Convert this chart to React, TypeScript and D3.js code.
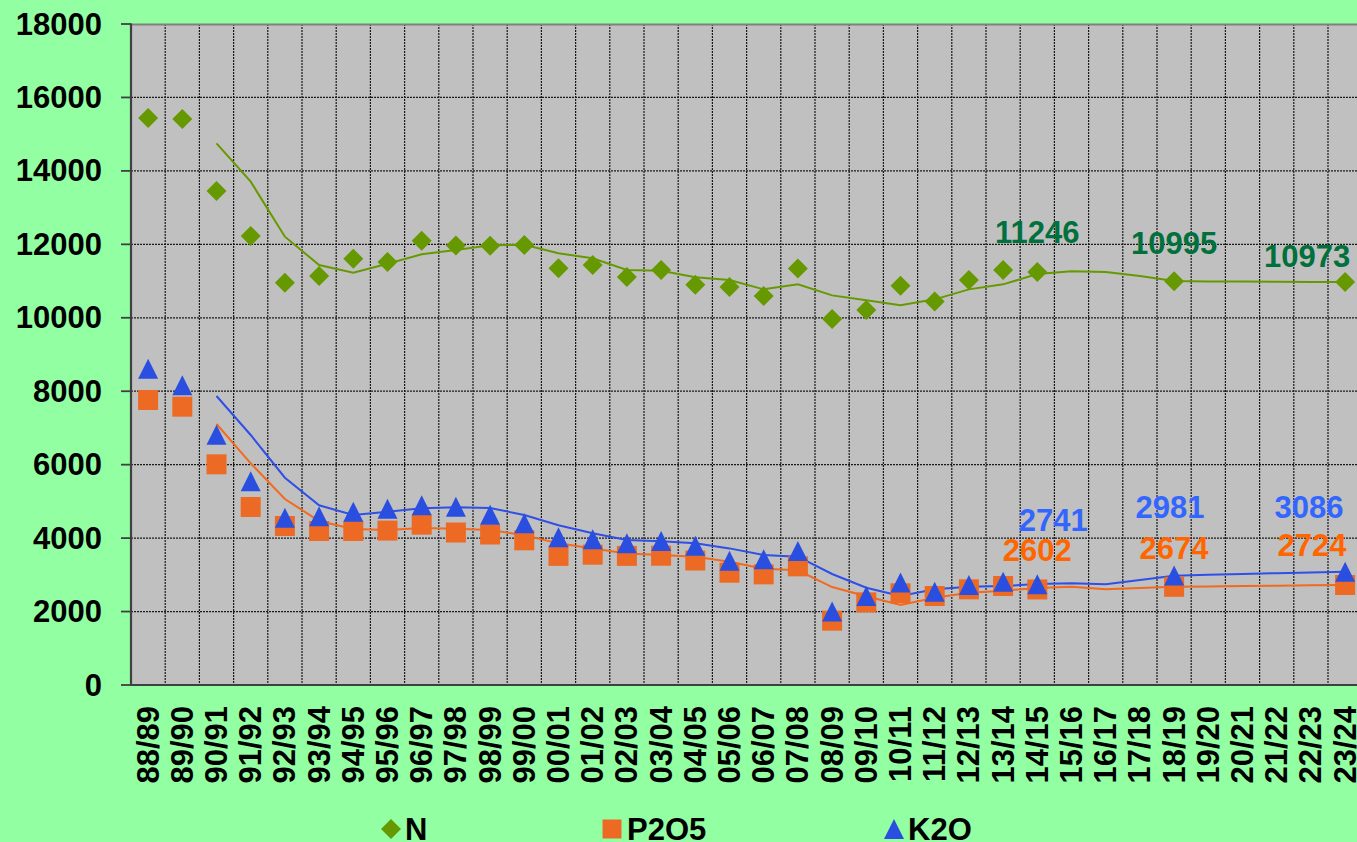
import React from "react";
import * as d3 from "d3";

const categories = [
  "88/89","89/90","90/91","91/92","92/93","93/94","94/95","95/96","96/97","97/98",
  "98/99","99/00","00/01","01/02","02/03","03/04","04/05","05/06","06/07","07/08",
  "08/09","09/10","10/11","11/12","12/13","13/14","14/15","15/16","16/17","17/18",
  "18/19","19/20","20/21","21/22","22/23","23/24",
];

const nValues: (number | null)[] = [
  15440, 15413, 13452, 12227, 10955, 11140, 11610, 11520, 12100, 11970,
  11960, 11980, 11350, 11440, 11110, 11300, 10900, 10840, 10590, 11340,
  9970, 10210, 10870, 10440, 11030, 11300, 11246, null, null, null,
  10995, null, null, null, null, 10973,
];
const nTrend: (number | null)[] = [
  null, null, 14750, 13706, 12208, 11437, 11228, 11470, 11728, 11846,
  11972, 11991, 11755, 11619, 11301, 11283, 11101, 11028, 10774, 10910,
  10610, 10480, 10339, 10502, 10774, 10910, 11192, 11265, 11246, 11137,
  11000, 10990, 10986, 10982, 10977, 10973,
];
const pValues: (number | null)[] = [
  7761, 7579, 6010, 4847, 4330, 4194, 4194, 4205, 4366, 4153,
  4098, 3940, 3516, 3548, 3516, 3520, 3390, 3058, 3013, 3231,
  1752, 2250, 2496, 2424, 2605, 2696, 2602, null, null, null,
  2674, null, null, null, null, 2724,
];
const pTrend: (number | null)[] = [
  null, null, 7107, 6037, 5065, 4466, 4248, 4221, 4275, 4257,
  4221, 4076, 3857, 3720, 3584, 3540, 3494, 3358, 3168, 3122,
  2668, 2415, 2178, 2378, 2515, 2569, 2641, 2678, 2605, 2641,
  2674, 2684, 2694, 2704, 2714, 2724,
];
const kValues: (number | null)[] = [
  8610, 8161, 6816, 5546, 4552, 4593, 4720, 4800, 4897, 4852,
  4638, 4402, 4025, 3970, 3857, 3921, 3793, 3385, 3426, 3649,
  2000, 2425, 2791, 2538, 2723, 2809, 2741, null, null, null,
  2981, null, null, null, null, 3086,
];
const kTrend: (number | null)[] = [
  null, null, 7870, 6808, 5645, 4893, 4629, 4720, 4811, 4838,
  4820, 4629, 4348, 4130, 3948, 3912, 3857, 3720, 3540, 3494,
  3023, 2650, 2424, 2605, 2678, 2696, 2750, 2768, 2741, 2859,
  2977, 3000, 3020, 3045, 3065, 3086,
];

const yTicks = [0, 2000, 4000, 6000, 8000, 10000, 12000, 14000, 16000, 18000];

// labelled points: [category index, series]
const labelIdx = [26, 30, 35];
const legendNames = ["N", "P2O5", "K2O"];

const W = 1357;
const H = 842;
const plotLeft = 131;
const plotTop = 24;
const plotBottom = 685;
const bandW = 34.2;
const plotRight = plotLeft + bandW * categories.length;

const FONT = "'Liberation Sans', Arial, sans-serif";
const BG = "#92FFA2";
const N_COLOR = "#669900";
const P_COLOR = "#EC6A24";
const K_COLOR = "#2A4FE0";
const P_LINE = "#F26A1E";
const K_LINE = "#2F4FE6";
const N_LABEL = "#00703C";
const P_LABEL = "#FF6600";
const K_LABEL = "#3366FF";

export default function App() {
  const x = d3.scaleBand<string>().domain(categories).range([plotLeft, plotRight]);
  const y = d3.scaleLinear().domain([0, 18000]).range([plotBottom, plotTop]);
  const cx = (i: number) => (x(categories[i]) as number) + x.bandwidth() / 2;

  const line = d3
    .line<number | null>()
    .defined((d) => d != null)
    .x((_, i) => cx(i))
    .y((d) => y(d as number));

  const diamond = (px: number, py: number, r = 10) =>
    `M${px},${py - r}L${px + r},${py}L${px},${py + r}L${px - r},${py}Z`;
  const square = (px: number, py: number, r = 10) =>
    `M${px - r},${py - r}H${px + r}V${py + r}H${px - r}Z`;
  const triangle = (px: number, py: number, r = 10) =>
    `M${px},${py - r}L${px + r},${py + r}L${px - r},${py + r}Z`;

  const gridX = d3.range(1, categories.length).map((k) => plotLeft + x.step() * k);

  // label placement offsets (style only)
  const nLabelOff = [[0, -40], [0, -38], [-38, -26]];
  const kLabelOff = [[16, -64], [-4, -68], [-36, -64]];
  const pLabelOff = [[0, -39], [0, -38], [-33, -39]];

  return (
    <svg
      width={W}
      height={H}
      style={{ position: "absolute", left: 0, top: 0, display: "block" }}
      fontFamily={FONT}
    >
      <rect x={0} y={0} width={W} height={H} fill={BG} />
      <rect x={plotLeft} y={plotTop} width={plotRight - plotLeft} height={plotBottom - plotTop} fill="#C0C0C0" />

      {/* horizontal gridlines */}
      {yTicks.slice(1, -1).map((t) => (
        <line key={"h" + t} x1={plotLeft} x2={plotRight} y1={y(t)} y2={y(t)}
          stroke="#1a1a1a" strokeWidth={1.2} strokeDasharray="2 1" />
      ))}
      {/* vertical gridlines */}
      {gridX.map((gx, k) => (
        <line key={"v" + k} x1={gx} x2={gx} y1={plotTop} y2={plotBottom}
          stroke="#1a1a1a" strokeWidth={1.2} strokeDasharray="2 1" />
      ))}

      {/* plot border */}
      <line x1={plotLeft} x2={plotRight} y1={plotTop + 0.5} y2={plotTop + 0.5} stroke="#808080" strokeWidth={2} />
      <line x1={plotLeft} x2={plotLeft} y1={plotTop - 0.5} y2={plotBottom + 1} stroke="#404040" strokeWidth={2.2} />
      <line x1={plotLeft} x2={plotRight} y1={plotBottom} y2={plotBottom} stroke="#404040" strokeWidth={2.2} />

      {/* y ticks */}
      {yTicks.map((t) => (
        <g key={"t" + t}>
          <line x1={121} x2={plotLeft} y1={y(t)} y2={y(t)} stroke="#404040" strokeWidth={1.8} />
          <text x={102} y={y(t)} textAnchor="end" dominantBaseline="central"
            fontSize={31} fontWeight="bold" fill="#000">{t}</text>
        </g>
      ))}

      {/* x labels */}
      {categories.map((c, i) => (
        <text key={c} transform={`translate(${cx(i)},706) rotate(-90)`} textAnchor="end"
          dominantBaseline="central" fontSize={31} fontWeight="bold" fill="#000">{c}</text>
      ))}

      {/* trend lines */}
      <path d={line(nTrend) || ""} fill="none" stroke={N_COLOR} strokeWidth={2} />
      <path d={line(pTrend) || ""} fill="none" stroke={P_LINE} strokeWidth={2} />
      <path d={line(kTrend) || ""} fill="none" stroke={K_LINE} strokeWidth={2} />

      {/* markers */}
      {nValues.map((v, i) => v == null ? null : (
        <path key={"n" + i} d={diamond(cx(i), y(v))} fill={N_COLOR} />
      ))}
      {pValues.map((v, i) => v == null ? null : (
        <path key={"p" + i} d={square(cx(i), y(v))} fill={P_COLOR} />
      ))}
      {kValues.map((v, i) => v == null ? null : (
        <path key={"k" + i} d={triangle(cx(i), y(v))} fill={K_COLOR} />
      ))}

      {/* data labels */}
      {labelIdx.map((i, j) => (
        <g key={"l" + i} fontSize={31} fontWeight="bold" textAnchor="middle" dominantBaseline="central">
          <text x={cx(i) + nLabelOff[j][0]} y={y(nValues[i] as number) + nLabelOff[j][1]} fill={N_LABEL}>{nValues[i]}</text>
          <text x={cx(i) + kLabelOff[j][0]} y={y(kValues[i] as number) + kLabelOff[j][1]} fill={K_LABEL}>{kValues[i]}</text>
          <text x={cx(i) + pLabelOff[j][0]} y={y(pValues[i] as number) + pLabelOff[j][1]} fill={P_LABEL}>{pValues[i]}</text>
        </g>
      ))}

      {/* legend */}
      <g fontSize={31} fontWeight="bold" fill="#000">
        <path d={diamond(391, 829)} fill={N_COLOR} />
        <text x={405} y={829} dominantBaseline="central">{legendNames[0]}</text>
        <path d={square(612, 829, 9.5)} fill={P_COLOR} />
        <text x={627} y={829} dominantBaseline="central">{legendNames[1]}</text>
        <path d={triangle(894, 829)} fill={K_COLOR} />
        <text x={908} y={829} dominantBaseline="central">{legendNames[2]}</text>
      </g>
    </svg>
  );
}
